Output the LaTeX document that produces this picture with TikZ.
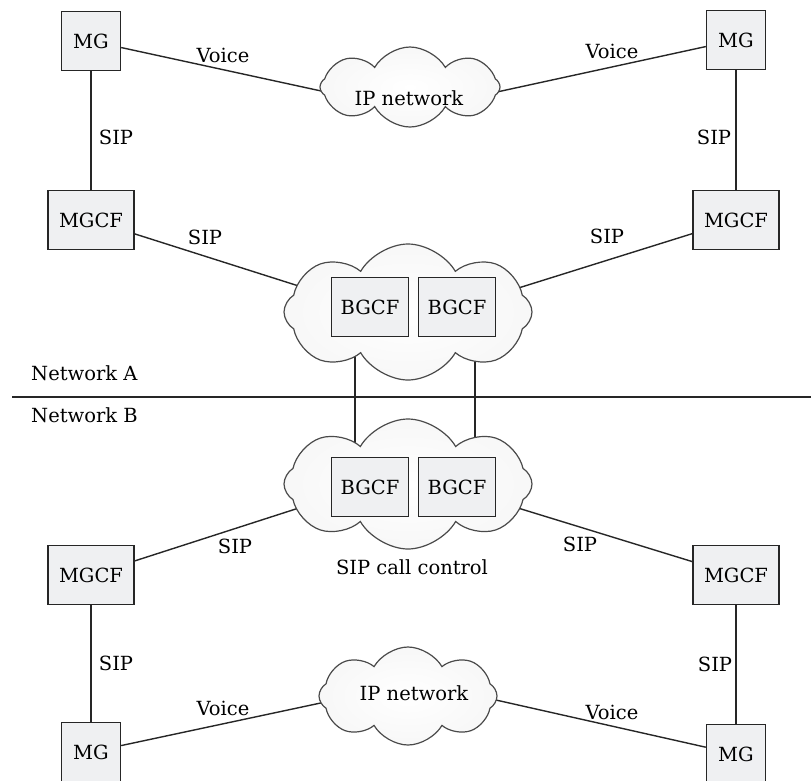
\documentclass[tikz,border=0pt]{standalone}
\usepackage{fontspec}
\setmainfont{DejaVu Serif}
\usetikzlibrary{shapes.symbols,backgrounds}
\definecolor{boxfill}{HTML}{EFF0F2}
\definecolor{ink}{HTML}{262626}
\definecolor{cloudline}{HTML}{4A4A4A}
\tikzset{
  unit/.style={draw=ink, line width=1.4pt, fill=boxfill, inner sep=0pt,
    minimum height=59pt, font=\fontsize{19.5}{22}\selectfont},
  mgbox/.style={unit, minimum width=59pt},
  mgcfbox/.style={unit, minimum width=86pt},
  bgcfbox/.style={unit, minimum width=77pt},
  netcloud/.style={cloud, cloud puffs=8, cloud puff arc=120, draw=cloudline,
    line width=1.2pt, inner color=white, outer color=black!3, inner sep=0pt},
  lbl/.style={inner sep=0pt, font=\fontsize{19.5}{22}\selectfont},
  link/.style={draw=ink, line width=1.4pt},
}
\begin{document}
\begin{tikzpicture}[x=1pt, y=-1pt]
\useasboundingbox (0,0) rectangle (811,780);

% clouds
\node[netcloud, minimum width=180pt, minimum height=80pt] (ipA) at (410,87) {};
\node[netcloud, minimum width=248pt, minimum height=136pt] (cA) at (408,312) {};
\node[netcloud, minimum width=248pt, minimum height=130pt] (cB) at (408,484) {};
\node[netcloud, minimum width=178pt, minimum height=98pt] (ipB) at (408,696) {};
\node[lbl] (ipAtxt) at (409,98) {IP network};
\node[lbl] (ipBtxt) at (414,693) {IP network};
\node[lbl] (ctrl) at (412,567) {SIP call control};

% Network A elements
\node[mgbox] (mgA1) at (91,41) {MG};
\node[mgbox] (mgA2) at (736,40) {MG};
\node[mgcfbox] (mgcfA1) at (91,220) {MGCF};
\node[mgcfbox] (mgcfA2) at (736,220) {MGCF};
\node[bgcfbox] (bgA1) at (370,307) {BGCF};
\node[bgcfbox] (bgA2) at (457,307) {BGCF};

% Network B elements
\node[bgcfbox] (bgB1) at (370,487) {BGCF};
\node[bgcfbox] (bgB2) at (457,487) {BGCF};
\node[mgcfbox] (mgcfB1) at (91,575) {MGCF};
\node[mgcfbox] (mgcfB2) at (736,575) {MGCF};
\node[mgbox] (mgB1) at (91,752) {MG};
\node[mgbox] (mgB2) at (736,754) {MG};

% points just inside the cloud outlines where the links end
\coordinate (pA1) at (335,94);
\coordinate (pA2) at (490,93.5);
\coordinate (pA3) at (305,288);
\coordinate (pA4) at (512,290);
\coordinate (pB3) at (305,506);
\coordinate (pB4) at (505,504);
\coordinate (pB1) at (330,701);
\coordinate (pB2) at (487,698);

\begin{scope}[on background layer]
  \draw[link] (mgA1) -- (pA1);
  \draw[link] (mgA2) -- (pA2);
  \draw[link] (mgcfA1) -- (pA3);
  \draw[link] (mgcfA2) -- (pA4);
  \draw[link] (mgcfB1) -- (pB3);
  \draw[link] (mgcfB2) -- (pB4);
  \draw[link] (mgB1) -- (pB1);
  \draw[link] (mgB2) -- (pB2);
  % trunks between the two BGCF clouds
  \draw[link] ([xshift=-53pt]cA.center) -- ([xshift=-53pt]cB.center);
  \draw[link] ([xshift=67pt]cA.center) -- ([xshift=67pt]cB.center);
\end{scope}

% vertical links
\draw[link] (mgA1) -- (mgcfA1);
\draw[link] (mgA2) -- (mgcfA2);
\draw[link] (mgcfB1) -- (mgB1);
\draw[link] (mgcfB2) -- (mgB2);

% network boundary
\coordinate (sepL) at (12,397);
\coordinate (sepR) at (811,397);
\draw[draw=ink, line width=2.4pt] (sepL) -- (sepR);
\node[lbl, anchor=west] (netA) at (31,373) {Network A};
\node[lbl, anchor=west] (netB) at (31,415) {Network B};

% link labels
\node[lbl] (vA1) at (223,55) {Voice};
\node[lbl] (vA2) at (612,51) {Voice};
\node[lbl] (vB1) at (223,708) {Voice};
\node[lbl] (vB2) at (612,712) {Voice};
\node[lbl] (sA1) at (116,137) {SIP};
\node[lbl] (sA2) at (714,137) {SIP};
\node[lbl] (sA3) at (205,237) {SIP};
\node[lbl] (sA4) at (607,236) {SIP};
\node[lbl] (sB3) at (235,546) {SIP};
\node[lbl] (sB4) at (580,544) {SIP};
\node[lbl] (sB1) at (116,663) {SIP};
\node[lbl] (sB2) at (715,664) {SIP};
\end{tikzpicture}
\end{document}
